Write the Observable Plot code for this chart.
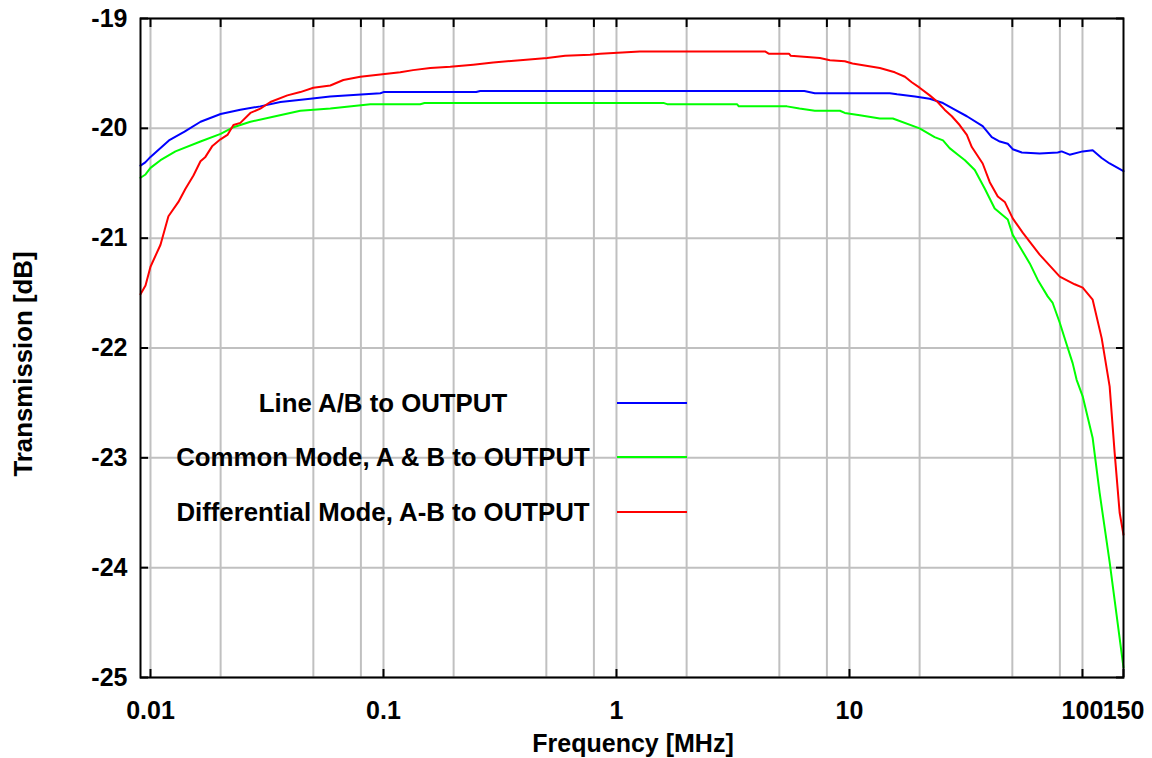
<!DOCTYPE html>
<html>
<head>
<meta charset="utf-8">
<script src="https://cdn.jsdelivr.net/npm/d3@7"></script>
<script src="https://cdn.jsdelivr.net/npm/@observablehq/plot@0.6"></script>
<style>
  body { margin: 0; background: #fff; }
  #wrap { position: relative; width: 1152px; height: 758px; overflow: hidden;
          font-family: "Liberation Sans", Arial, Helvetica, sans-serif; font-weight: bold; color: #000; }
  #wrap svg { position: absolute; left: 0; top: 0; }
  .lbl { position: absolute; font-size: 25px; line-height: 30px; white-space: nowrap; }
  .legtext { width: 460px; text-align: center; font-size: 25.8px; }
  .ytitle { font-size: 25.8px; }
  .legline { position: absolute; height: 2px; width: 70px; }
</style>
</head>
<body>
<div id="wrap"></div>
<script>
// ---- data (frequency in MHz, transmission in dB) ----
const seriesNames = ["Line A/B to OUTPUT", "Common Mode, A & B to OUTPUT", "Differential Mode, A-B to OUTPUT"];
const seriesColors = ["#0000ff", "#00ff00", "#ff0000"];

const lineAB = [
  [0.00906, -20.34], [0.0095, -20.31], [0.01, -20.26], [0.012, -20.11], [0.014, -20.03], [0.0164, -19.94],
  [0.02, -19.87], [0.0243, -19.83], [0.0296, -19.80], [0.0361, -19.76], [0.0485, -19.73],
  [0.059, -19.71], [0.097, -19.68], [0.1, -19.67], [0.25, -19.67], [0.26, -19.66], [6.4, -19.66],
  [7.1, -19.68], [14.9, -19.68], [16, -19.69], [19.1, -19.71], [22.1, -19.73], [25.2, -19.77],
  [28.3, -19.83], [31.9, -19.89], [37.3, -19.98], [40.8, -20.08], [44.2, -20.12], [47.8, -20.14],
  [50.2, -20.19], [54.9, -20.22], [65.5, -20.23], [78.3, -20.22], [81.4, -20.21], [88.1, -20.24],
  [100.2, -20.21], [110.6, -20.20], [120.9, -20.27], [130.8, -20.32], [150, -20.39]
];

const commonMode = [
  [0.00906, -20.45], [0.00952, -20.42], [0.01, -20.36], [0.01104, -20.29], [0.0128, -20.21],
  [0.01639, -20.12], [0.02, -20.05], [0.0227, -19.99], [0.02684, -19.94], [0.03436, -19.89],
  [0.04396, -19.84], [0.05913, -19.82], [0.0878, -19.78], [0.1438, -19.78], [0.15, -19.77],
  [1.6, -19.77], [1.65, -19.78], [3.29, -19.78], [3.35, -19.80], [5.39, -19.80], [6.1, -19.82],
  [7.1, -19.84], [9.1, -19.84], [9.55, -19.86], [11.08, -19.88], [13.5, -19.91], [15.35, -19.91],
  [20, -20.00], [23.2, -20.08], [25.2, -20.11], [26.9, -20.18], [29.2, -20.24], [31.3, -20.29],
  [34.5, -20.38], [38.1, -20.55], [42, -20.73], [47.8, -20.83], [50.2, -20.97], [59.4, -21.23],
  [64.3, -21.38], [70.9, -21.53], [74.5, -21.59], [79.9, -21.77], [85.6, -21.97], [90.8, -22.14],
  [94.4, -22.29], [100.2, -22.44], [110.6, -22.82], [118.5, -23.32], [130.8, -23.95], [150, -24.91]
];

const diffMode = [
  [0.00906, -21.51], [0.00952, -21.43], [0.01, -21.26], [0.01104, -21.06], [0.01194, -20.80],
  [0.01318, -20.67], [0.01413, -20.55], [0.01529, -20.43], [0.01639, -20.30], [0.01721, -20.26],
  [0.01844, -20.16], [0.01997, -20.10], [0.02139, -20.06], [0.0227, -19.97], [0.02431, -19.95],
  [0.02684, -19.86], [0.02962, -19.82], [0.0327, -19.76], [0.03868, -19.70], [0.04396, -19.67],
  [0.05, -19.63], [0.05913, -19.61], [0.06725, -19.56], [0.07953, -19.53], [0.0969, -19.51],
  [0.118, -19.49], [0.134, -19.47], [0.1588, -19.45], [0.1934, -19.44], [0.2427, -19.42],
  [0.2956, -19.40], [0.386, -19.38], [0.504, -19.36], [0.602, -19.34], [0.77, -19.33],
  [0.851, -19.32], [1.26, -19.30], [4.34, -19.30], [4.5, -19.32], [5.5, -19.32], [5.6, -19.34],
  [7.47, -19.36], [8.24, -19.38], [9.55, -19.39], [10.3, -19.41], [13.5, -19.45], [15.65, -19.49],
  [17.3, -19.53], [18.5, -19.58], [20, -19.63], [22.1, -19.70], [23.9, -19.76], [25.6, -19.83],
  [27.5, -19.89], [29.7, -19.97], [31.9, -20.06], [33.5, -20.17], [37.3, -20.32], [40, -20.49],
  [43.3, -20.62], [46.4, -20.67], [50.2, -20.82], [55.4, -20.95], [65.5, -21.15], [79.9, -21.35],
  [92.6, -21.42], [100.2, -21.45], [110.6, -21.56], [120.9, -21.91], [130.8, -22.35],
  [137.4, -22.95], [144.4, -23.50], [150, -23.70]
];

// ---- axes / ticks ----
const xDomain = [0.00906, 150];
const yDomain = [-25, -19];
const xTickLabels = [0.01, 0.1, 1, 10, 100, 150];
const xGrid = [0.01, 0.02, 0.05, 0.08, 0.1, 0.2, 0.5, 0.8, 1, 2, 5, 8, 10, 20, 50, 80, 100];
const yTicks = [-25, -24, -23, -22, -21, -20, -19];
const xTitle = "Frequency [MHz]";
const yTitle = "Transmission [dB]";

// ---- build tidy table ----
const seriesData = [lineAB, commonMode, diffMode];
const rows = [];
seriesData.forEach((arr, i) => arr.forEach(([f, db]) => rows.push({series: seriesNames[i], f, db})));

const font = '"Liberation Sans", Arial, Helvetica, sans-serif';

const chart = Plot.plot({
  width: 1152,
  height: 758,
  marginLeft: 140,
  marginRight: 29,
  marginTop: 18,
  marginBottom: 81,
  style: {fontFamily: font, fontSize: "25px", fontWeight: "bold", background: "transparent", color: "black", overflow: "visible"},
  x: {type: "log", domain: xDomain},
  y: {domain: yDomain},
  color: {domain: seriesNames, range: seriesColors},
  marks: [
    Plot.ruleX(xGrid, {stroke: "#c0c0c0", strokeWidth: 2}),
    Plot.ruleY(yTicks, {stroke: "#c0c0c0", strokeWidth: 2}),
    Plot.line(rows, {x: "f", y: "db", z: "series", stroke: "series", strokeWidth: 2, curve: "linear"}),
    Plot.axisY({anchor: "left", ticks: yTicks, tickSize: 8, dx: 8, tickPadding: 13, strokeWidth: 2,
                tickFormat: d => String(d), label: null}),
    Plot.axisY({anchor: "right", ticks: yTicks, tickSize: 8, dx: -8, strokeWidth: 2,
                tickFormat: () => "", label: null}),
    Plot.axisX({anchor: "bottom", ticks: xTickLabels, tickSize: 8, dy: -8, tickPadding: 24, strokeWidth: 2,
                tickFormat: d => String(d), label: null}),
    Plot.axisX({anchor: "top", ticks: xGrid, tickSize: 8, dy: 8, strokeWidth: 2,
                tickFormat: () => "", label: null}),
    Plot.frame({stroke: "black", strokeWidth: 2})
  ]
});

const wrap = document.getElementById("wrap");
wrap.appendChild(chart);

// axis titles
const xt = document.createElement("div");
xt.className = "lbl";
xt.textContent = xTitle;
xt.style.left = "633px"; xt.style.top = "743px"; xt.style.transform = "translate(-50%,-50%)";
wrap.appendChild(xt);

const yt = document.createElement("div");
yt.className = "lbl ytitle";
yt.textContent = yTitle;
yt.style.left = "23px"; yt.style.top = "364px"; yt.style.transform = "translate(-50%,-50%) rotate(-90deg)";
wrap.appendChild(yt);

// legend (inside plot area)
const legendRowCenters = [403, 457, 512];
seriesNames.forEach((name, i) => {
  const t = document.createElement("div");
  t.className = "lbl legtext";
  t.textContent = name;
  t.style.left = (383 - 230) + "px";
  t.style.top = (legendRowCenters[i] - 15) + "px";
  wrap.appendChild(t);
  const l = document.createElement("div");
  l.className = "legline";
  l.style.left = "617px";
  l.style.top = (legendRowCenters[i] - 1) + "px";
  l.style.background = seriesColors[i];
  wrap.appendChild(l);
});
</script>
</body>
</html>
